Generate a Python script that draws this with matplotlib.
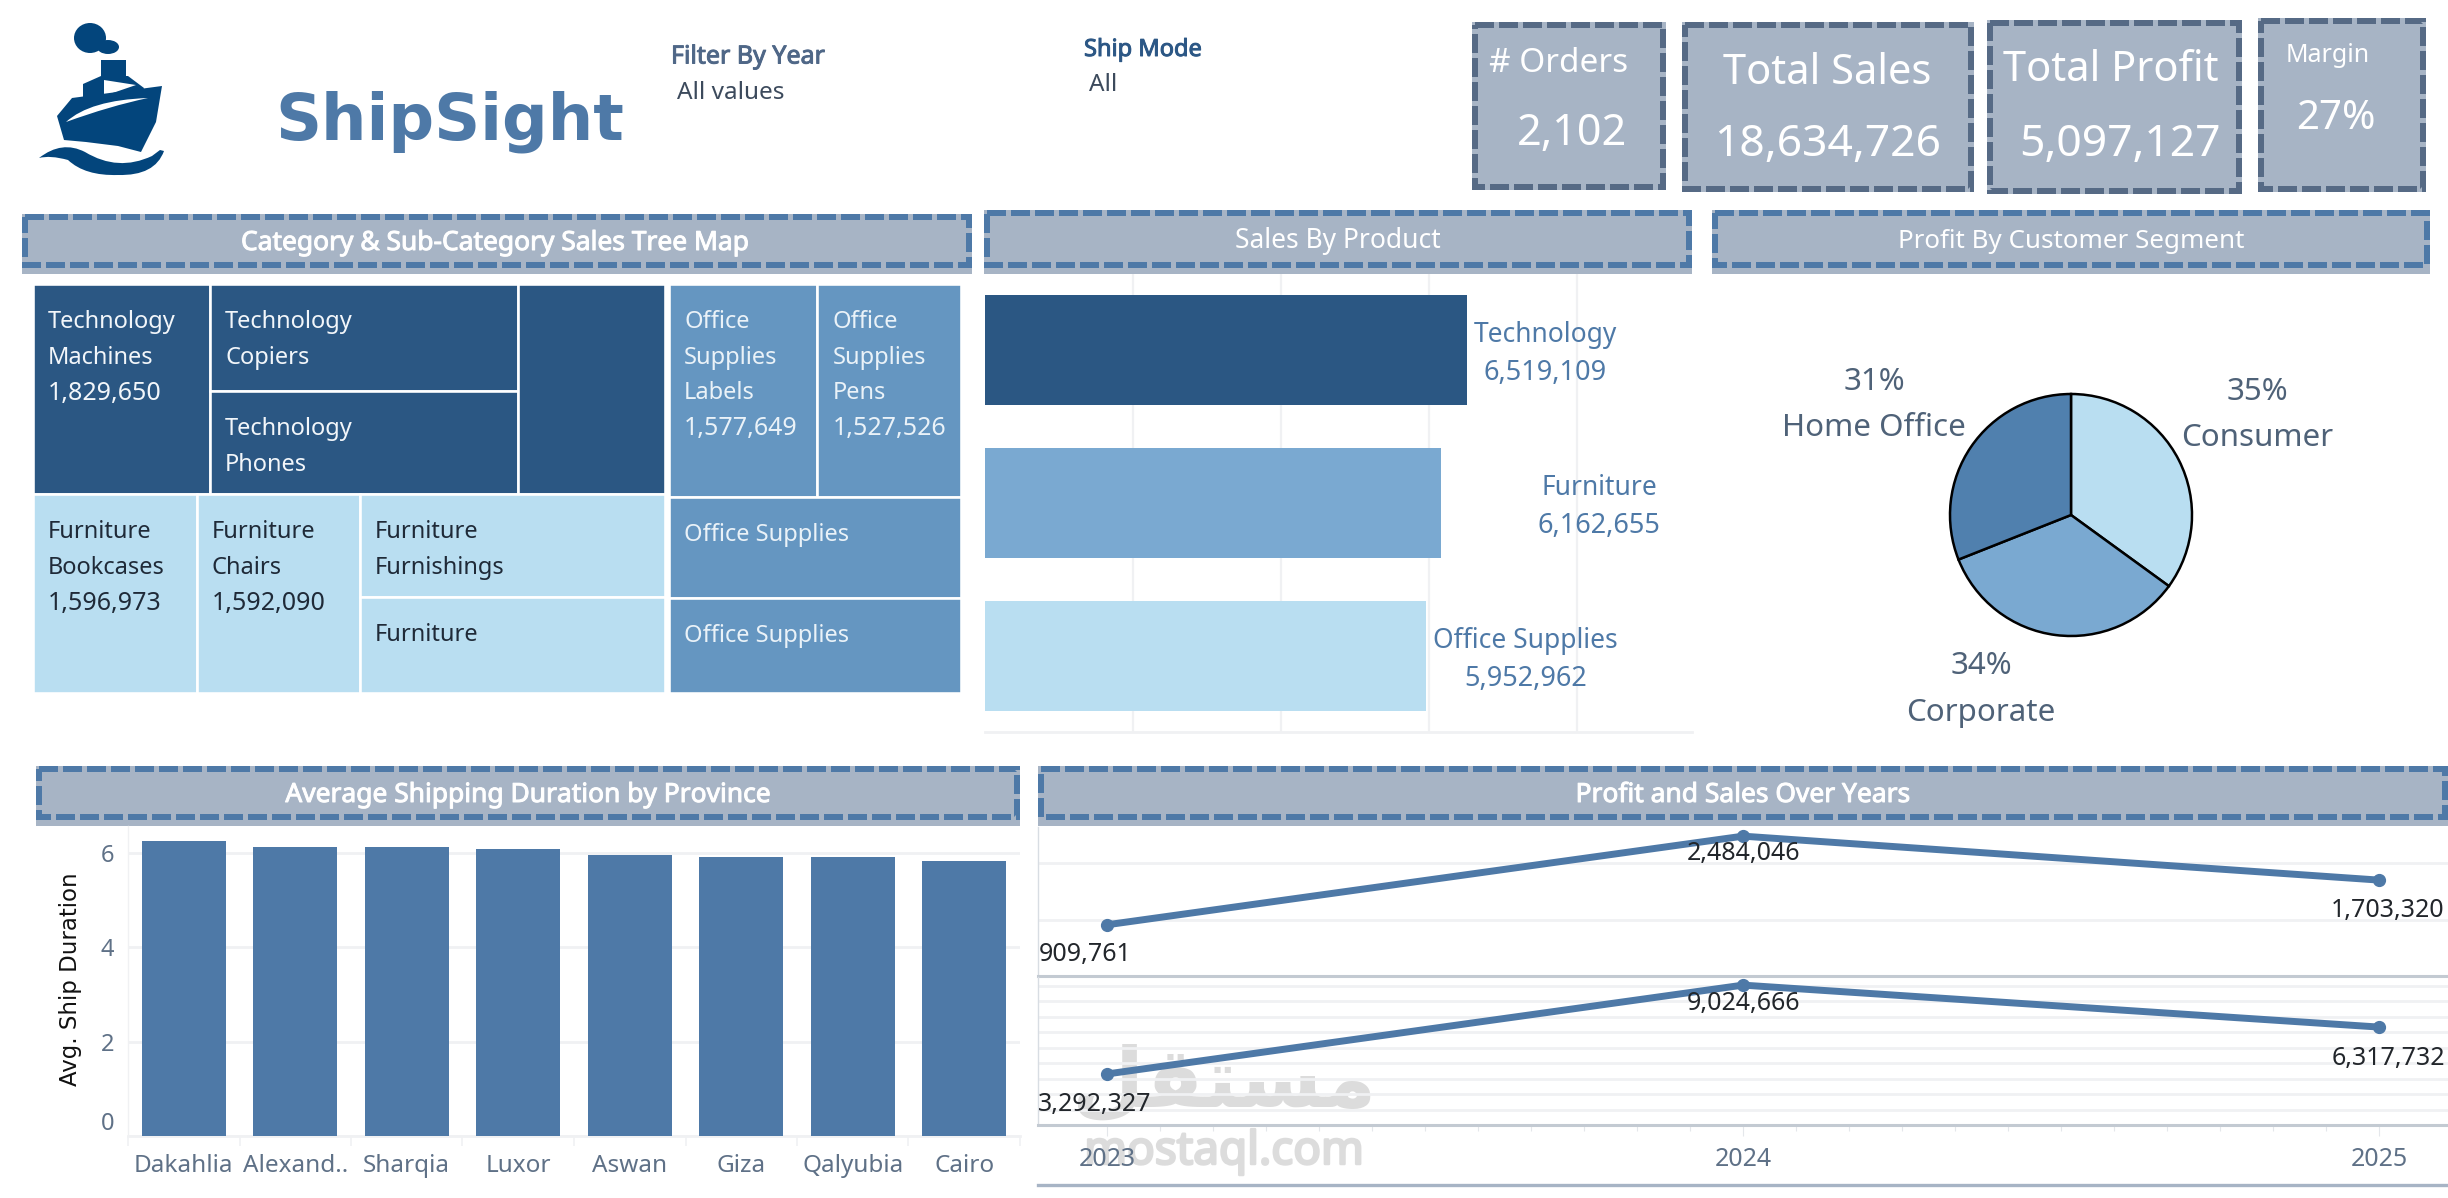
import numpy as np
import matplotlib
matplotlib.use("Agg")
import matplotlib.pyplot as plt
import matplotlib.patheffects as pe
from matplotlib.patches import Rectangle, Polygon, Ellipse, PathPatch
from matplotlib.path import Path
from matplotlib.ticker import FixedLocator, NullFormatter

plt.rcParams['font.family'] = ['Noto Sans', 'DejaVu Sans']

# ---------- data ----------
kpi_names = ["# Orders", "Total Sales", "Total Profit", "Margin"]
kpi_values = ["2,102", "18,634,726", "5,097,127", "27%"]

tech_sub = ["Machines", "Copiers", "Phones", "Accessories"]
tech_val = [1829650, 1620000, 1560000, 1509459]
furn_sub = ["Bookcases", "Chairs", "Furnishings", "Tables"]
furn_val = [1596973, 1592090, 1530000, 1443592]
off_sub = ["Labels", "Pens", "Paper", "Binders"]
off_val = [1577649, 1527526, 1460000, 1387787]

prod_names = ["Technology", "Furniture", "Office Supplies"]
prod_sales = [6519109, 6162655, 5952962]

seg_names = ["Consumer", "Corporate", "Home Office"]
seg_share = [35, 34, 31]

provinces = ["Dakahlia", "Alexand..", "Sharqia", "Luxor", "Aswan", "Giza", "Qalyubia", "Cairo"]
ship_days = [6.25, 6.12, 6.12, 6.08, 5.95, 5.91, 5.91, 5.83]

years = [2023, 2024, 2025]
profit_y = [909761, 2484046, 1703320]
sales_y = [3292327, 9024666, 6317732]

# ---------- colours ----------
DARK = "#2b5783"; MID = "#6596c1"; LIGHT = "#b9def1"; BAR2 = "#7aa9d1"
BLUE = "#4e79a7"; BANNER = "#a7b4c5"; CARDLINE = "#566a85"; GREYTXT = "#5f7187"
GRID = "#f0f1f3"; NAVY = "#03457c"

W, H = 2448, 1198
PX = 0.72
fig = plt.figure(figsize=(W/100, H/100), dpi=100, facecolor="white")

bg = fig.add_axes([0, 0, 1, 1], zorder=0)
bg.set_xlim(0, W); bg.set_ylim(H, 0); bg.axis("off")

def pxaxes(x0, y0, x1, y1, z=1):
    ax = fig.add_axes([x0/W, 1-y1/H, (x1-x0)/W, (y1-y0)/H], zorder=z)
    ax.patch.set_alpha(0)
    return ax

def T(x, y, s, size, color="white", bold=0, ha="center", va="center", dy=3, **kw):
    t = bg.text(x, y+dy, s, fontsize=size, color=color, ha=ha, va=va, **kw)
    if bold:
        t.set_path_effects([pe.withStroke(linewidth=bold, foreground=color)])
    return t

def dashed(x0, y0, x1, y1, color, lw=6):
    bg.add_patch(Rectangle((x0+lw/2, y0+lw/2), x1-x0-lw, y1-y0-lw, fill=False, edgecolor=color,
                           lw=lw*PX, ls=(0, (19/6, 5/6)), capstyle="butt", joinstyle="miter"))

def banner(x0, y0, x1, y_dash, y1, title, cx, size=19, bold=0.7):
    bg.add_patch(Rectangle((x0, y0), x1-x0, y_dash-y0+6, fc=BANNER, ec="none"))
    dashed(x0, y0, x1, y_dash, BLUE)
    T(cx, (y0+y_dash)/2-1, title, size, "white", bold)

def card(x0, y0, x1, y1, name, nx, ny, nsize, val, vx, vy, vsize):
    bg.add_patch(Rectangle((x0, y0), x1-x0, y1-y0, fc=BANNER, ec="none"))
    dashed(x0, y0, x1, y1, CARDLINE)
    T(nx, ny, name, nsize, "white")
    T(vx, vy, val, vsize, "white")

# ---------- logo ----------
def poly(pts, fc=NAVY):
    bg.add_patch(Polygon(pts, closed=True, fc=fc, ec="none"))
bg.add_patch(Ellipse((90, 38), 32, 30, fc=NAVY, ec="none"))
bg.add_patch(Ellipse((108, 47), 22, 14, fc=NAVY, ec="none"))
poly([(101, 60), (126, 60), (126, 78), (101, 78)])
poly([(83, 84), (101, 76), (128, 76), (144, 88), (140, 100), (83, 100)])
poly([(104, 96), (136, 85), (104, 80)], "white")
poly([(72, 98), (162, 86), (156, 122), (141, 152), (118, 146), (86, 142), (64, 140), (57, 116)])
bg.add_patch(PathPatch(Path([(66, 122), (90, 100), (148, 98), (148, 98), (110, 106), (66, 122)],
                            [Path.MOVETO, Path.CURVE3, Path.CURVE3, Path.LINETO, Path.CURVE3, Path.CURVE3]),
                       fc="white", ec="none"))
bg.add_patch(PathPatch(Path([(39, 158), (62, 140), (85, 152), (118, 172), (152, 156), (160, 150), (164, 151),
                             (155, 176), (118, 175), (85, 176), (68, 160), (50, 155), (39, 158)],
                            [Path.MOVETO, Path.CURVE3, Path.CURVE3, Path.CURVE3, Path.CURVE3, Path.LINETO, Path.LINETO,
                             Path.CURVE3, Path.CURVE3, Path.CURVE3, Path.CURVE3, Path.CURVE3, Path.CURVE3]),
                       fc=NAVY, ec="none"))

T(275, 119, "ShipSight", 46, BLUE, 0, ha="left", family="DejaVu Sans", fontweight="bold")
T(671, 54, "Filter By Year", 18, "#4f6787", 0.7, ha="left")
T(677, 90, "All values", 17.5, "#3c4a5c", ha="left")
T(1084, 47, "Ship Mode", 17, "#2c5785", 0.7, ha="left")
T(1089, 82, "All", 17.5, "#3c4a5c", ha="left")

# ---------- KPI cards ----------
card(1472, 22, 1666, 190, kpi_names[0], 1559, 61, 24, kpi_values[0], 1572, 131, 31)
card(1682, 22, 1974, 192, kpi_names[1], 1827, 70, 30, kpi_values[1], 1828, 142, 32)
card(1987, 20, 2242, 194, kpi_names[2], 2111, 67, 30, kpi_values[2], 2120, 142, 32)
card(2258, 18, 2426, 192, kpi_names[3], 2328, 52, 18, kpi_values[3], 2336, 116, 29)

# ---------- banners ----------
banner(22, 214, 972, 268, 274, "Category & Sub-Category Sales Tree Map", 495)
banner(984, 210, 1692, 268, 274, "Sales By Product", 1338, bold=0)
banner(1712, 210, 2430, 268, 274, "Profit By Customer Segment", 2071, size=18.7, bold=0)
banner(36, 766, 1020, 820, 826, "Average Shipping Duration by Province", 528)
banner(1038, 766, 2448, 820, 826, "Profit and Sales Over Years", 1743)

# ---------- tree map ----------
tm = pxaxes(33, 284, 961, 693)
tm.set_xlim(0, 1); tm.set_ylim(1, 0); tm.axis("off")

def cell(x, y, w, h, color, lines, txt):
    tm.add_patch(Rectangle((x, y), w, h, fc=color, ec="white", lw=2.6*PX))
    if lines:
        for i, s in enumerate(lines):
            size = 18 if s[0].isdigit() else 17
            tm.annotate(s, (x, y), xytext=(15*PX, -(38+35.6*i)*PX), textcoords="offset points",
                        color=txt, fontsize=size, ha="left", va="center")

total = sum(tech_val)+sum(furn_val)+sum(off_val)
left = (sum(tech_val)+sum(furn_val))/total
th = sum(tech_val)/(sum(tech_val)+sum(furn_val))

# Technology: Machines | (Copiers / Phones) | unlabeled
f = [v/sum(tech_val)*left for v in tech_val]
x = 0
cell(x, 0, f[0], th, DARK, ["Technology", "Machines", f"{tech_val[0]:,}"], "#f2f6fa"); x += f[0]
mid = f[1]+f[2]; sp = tech_val[1]/(tech_val[1]+tech_val[2])*th
cell(x, 0, mid, sp, DARK, ["Technology", "Copiers"], "#f2f6fa")
cell(x, sp, mid, th-sp, DARK, ["Technology", "Phones"], "#f2f6fa"); x += mid
cell(x, 0, f[3], th, DARK, None, "white")

# Furniture
f = [v/sum(furn_val)*left for v in furn_val]
x = 0
cell(x, th, f[0], 1-th, LIGHT, ["Furniture", "Bookcases", f"{furn_val[0]:,}"], "#1f2a38"); x += f[0]
cell(x, th, f[1], 1-th, LIGHT, ["Furniture", "Chairs", f"{furn_val[1]:,}"], "#1f2a38"); x += f[1]
mid = f[2]+f[3]; sp = furn_val[2]/(furn_val[2]+furn_val[3])*(1-th)
cell(x, th, mid, sp, LIGHT, ["Furniture", "Furnishings"], "#1f2a38")
cell(x, th+sp, mid, 1-th-sp, LIGHT, ["Furniture"], "#1f2a38")

# Office Supplies
ot = sum(off_val); w = 1-left
top = (off_val[0]+off_val[1])/ot
xl = left+0.005
wl = w-0.005
c1 = off_val[0]/(off_val[0]+off_val[1])*wl
cell(xl, 0, c1, top, MID, ["Office", "Supplies", "Labels", f"{off_val[0]:,}"], "#eaf2f8")
cell(xl+c1, 0, wl-c1, top, MID, ["Office", "Supplies", "Pens", f"{off_val[1]:,}"], "#eaf2f8")
r = off_val[2]/(off_val[2]+off_val[3])*(1-top)
cell(xl, top, wl, r, MID, ["Office Supplies"], "#eaf2f8")
cell(xl, top+r, wl, 1-top-r, MID, ["Office Supplies"], "#eaf2f8")

# ---------- sales by product ----------
ax = pxaxes(985, 274, 1692, 732)
ax.barh(range(3), prod_sales, height=0.72, color=[DARK, BAR2, LIGHT], zorder=3)
ax.set_xlim(0, 707/74e-6); ax.set_ylim(2.5, -0.5)
ax.set_xticks([2e6, 4e6, 6e6, 8e6]); ax.set_yticks([])
ax.tick_params(length=0, labelbottom=False)
ax.grid(axis="x", color=GRID, lw=1.6, zorder=0)
for s in ["top", "right", "left"]:
    ax.spines[s].set_visible(False)
ax.spines["bottom"].set_color(GRID); ax.spines["bottom"].set_linewidth(2)
lab_dx = [78, 158, 100]
for i, (n, v) in enumerate(zip(prod_names, prod_sales)):
    dx = lab_dx[i]*PX
    ax.annotate(n, (v, i), xytext=(dx, 15*PX), textcoords="offset points", ha="center", va="center",
                color=BLUE, fontsize=19)
    ax.annotate(f"{v:,}", (v, i), xytext=(dx, -23*PX), textcoords="offset points", ha="center", va="center",
                color=BLUE, fontsize=19.5)

# ---------- pie ----------
pie = pxaxes(2071-125, 515-125, 2071+125, 515+125)
wedges, _ = pie.pie(seg_share, colors=[LIGHT, BAR2, "#5080ae"], startangle=90, counterclock=False,
                    radius=121/125, wedgeprops=dict(edgecolor="black", linewidth=1.8))
pie.set_xlim(-1, 1); pie.set_ylim(-1, 1)
SEG = "#4f6278"
pos = {"Consumer": (2257, 389, 435), "Corporate": (1981, 663, 710), "Home Office": (1874, 379, 425)}
for n, v in zip(seg_names, seg_share):
    x, y1, y2 = pos[n]
    T(x, y1, f"{v}%", 22.5, SEG)
    T(x, y2, n, 22.5, SEG)

# ---------- watermark (behind the charts' marks and labels) ----------
ov = fig.add_axes([0, 0, 1, 1], zorder=0.5)
ov.set_xlim(0, W); ov.set_ylim(H, 0); ov.axis("off"); ov.patch.set_alpha(0)
WM = "#dcdcdc"
m1 = ov.text(1224, 1152, "mostaql.com", fontsize=33, color=WM, ha="center", va="center")
m2 = ov.text(1224, 1083, "\uFEDE\uFED8\uFE98\uFEB4\uFEE3", fontsize=60, color=WM,
             ha="center", va="center", family="DejaVu Sans", fontweight="bold")
m1.set_path_effects([pe.withStroke(linewidth=1.8, foreground=WM)])

# ---------- shipping duration ----------
ax = pxaxes(128, 826, 1020, 1136)
ax.bar(range(len(provinces)), ship_days, width=0.754, color=BLUE, zorder=3)
ax.set_xlim(-0.5, 7.5); ax.set_ylim(0, 310/47.2)
ax.set_yticks([0, 2, 4, 6])
ax.set_yticklabels(["0", "2", "4", "6"], fontsize=17, color=GREYTXT)
ax.get_yticklabels()[0].set_verticalalignment("bottom")
ax.tick_params(axis="y", length=0, pad=10)
ax.set_xticks(range(8))
ax.set_xticklabels(provinces, fontsize=17.5, color=GREYTXT)
ax.tick_params(axis="x", which="major", length=0, pad=13)
ax.xaxis.set_minor_locator(FixedLocator(np.arange(-0.5, 8, 1)))
ax.xaxis.set_minor_formatter(NullFormatter())
ax.tick_params(axis="x", which="minor", length=10*PX, color=GRID, width=1.2)
ax.grid(axis="y", color=GRID, lw=2, zorder=0)
for s in ["top", "right"]:
    ax.spines[s].set_visible(False)
ax.spines["left"].set_color(GRID); ax.spines["left"].set_linewidth(1)
ax.spines["bottom"].set_color(GRID); ax.spines["bottom"].set_linewidth(2)
T(71, 979, "Avg. Ship Duration", 16.5, "#111111", rotation=90, family="DejaVu Sans", dy=0)

# ---------- profit & sales ----------
xl = (2023-69/636, 2025+69/636)

def line_panel(box, vals, ymax, step, label_off):
    a = pxaxes(*box)
    a.plot(years, vals, color=BLUE, lw=5, marker="o", ms=8.5, zorder=3, clip_on=False)
    a.set_xlim(*xl); a.set_ylim(0, ymax)
    a.set_yticks(np.arange(step, ymax, step))
    a.set_yticklabels([])
    a.tick_params(axis="y", length=0)
    a.grid(axis="y", color=GRID, lw=2, zorder=0)
    for s in ["top", "right"]:
        a.spines[s].set_visible(False)
    a.spines["left"].set_color("#d8dde3"); a.spines["left"].set_linewidth(1)
    a.spines["bottom"].set_color("#c3cad2"); a.spines["bottom"].set_linewidth(2.2)
    for xv, v, (dx, dy) in zip(years, vals, label_off):
        a.annotate(f"{v:,}", (xv, v), xytext=(dx*PX, dy*PX), textcoords="offset points",
                   ha="center", va="center", color="#22262b", fontsize=18, annotation_clip=False)
    return a

a1 = line_panel((1038, 827, 2448, 976), profit_y, 149/56.3e-6, 1e6, [(-22, -30), (0, -17), (9, -30)])
a1.set_xticks(years); a1.set_xticklabels([]); a1.tick_params(axis="x", length=0)
a2 = line_panel((1038, 977, 2448, 1125), sales_y, 148/15.5e-6, 1e6, [(-12, -31), (0, -18), (9, -31)])
a2.set_xticks(years)
a2.set_xticklabels([str(y) for y in years], fontsize=18, color=GREYTXT)
a2.tick_params(axis="x", which="major", length=8, color="#e4e7eb", pad=8)
a2.xaxis.set_minor_locator(FixedLocator(np.arange(2023, 2025.01, 1/12)))
a2.xaxis.set_minor_formatter(NullFormatter())
a2.tick_params(axis="x", which="minor", length=4, color="#e4e7eb", width=0.8)
bg.plot([1038, 2448], [1185, 1185], color=BANNER, lw=2.4)

fig.savefig("out.png", dpi=100)
